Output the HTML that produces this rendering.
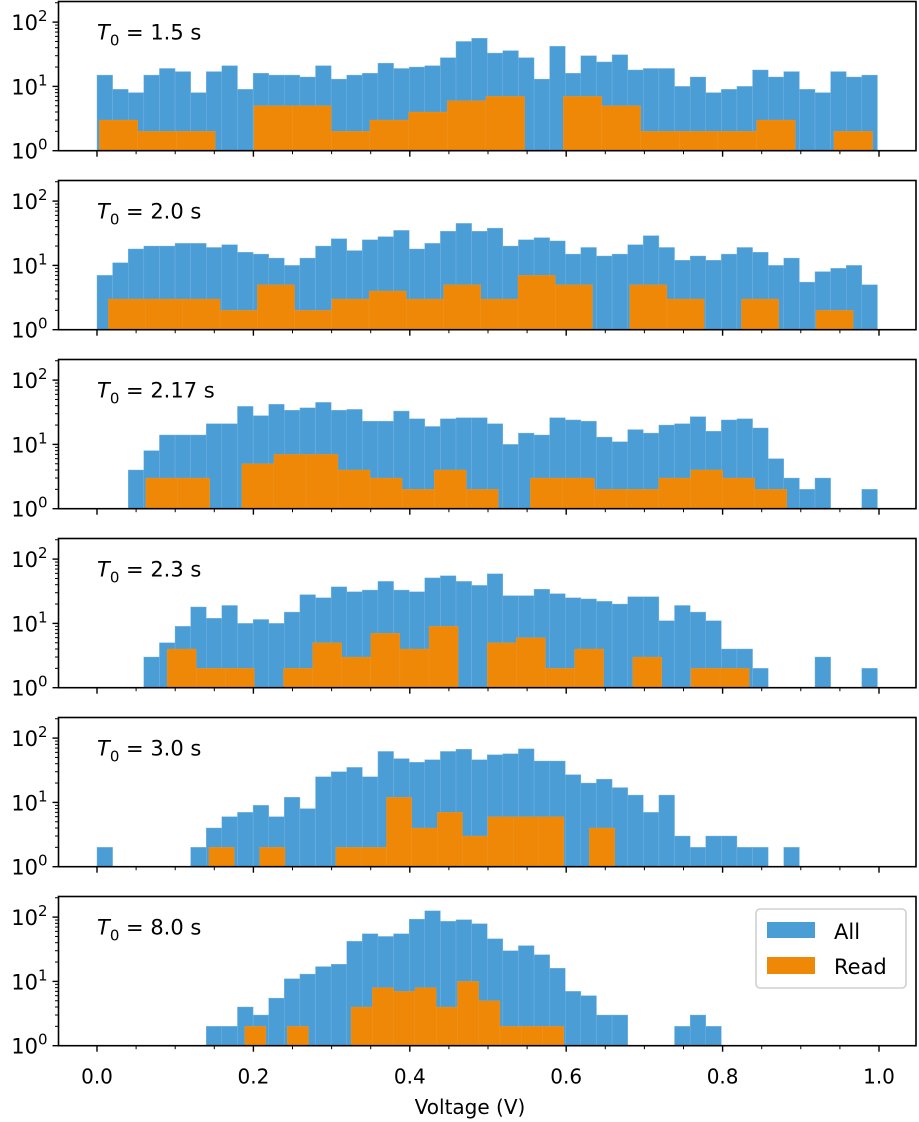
<!DOCTYPE html>
<html><head><meta charset="utf-8"><style>
body{margin:0;background:#fff;}
svg{display:block;font-family:"DejaVu Sans","Liberation Sans",sans-serif;}
</style></head><body>
<svg id="chart" width="919" height="1122" viewBox="0 0 919 1122" xmlns="http://www.w3.org/2000/svg"></svg>
<script>
const panelLabels = ["1.5", "2.0", "2.17", "2.3", "3.0", "8.0"];
const allCounts = [
 [15,9,8,15,19,17,8,17,21,9,16,15,15,14,21,13,15,16,23,19,20,21,28,50,56,33,36,28,13,42,16,30,24,31,18,19,19,10,14,8,9,10,18,14,17,9,8,17,14,15],
 [7,11,18,20,20,22,22,19,21,16,15,13,10,13,20,26,17,25,28,35,18,22,34,45,34,38,20,25,27,24,15,19,14,15,21,29,19,12,14,12,15,19,16,10,13,5.5,8,9,10,5],
 [0,0,4,8,14,14,14,21,21,39,28,42,34,37,45,34,35,23,23,33,25,19,25,26,26,21,10,15,14,26,24,23,13,11,17,15,20,21,27,16,24,25,18,6,3,2,3,0,0,2],
 [0,0,0,3,5,9,18,12,19,10,11.5,10,15,28,25,37,31,33,45,33,31,51,55,45,39,59,27,27,34,29,25,24,22,20,26,26,11,19,15,11,4,4,2,0,0,0,3,0,0,2],
 [2,0,0,0,0,0,2,4,6,7,9,6,12,8,25,30,35,25,62,48,42,46,62,67,46,55,57,68,44,44,27,20,23,17,13,7,13,3,2,3,3,2,2,0,2,0,0,0,0,0],
 [0,0,0,0,0,0,0,2,2,4,3,5.5,11,13,17,18.5,42,55,50,55,93,125,86,91,79,46,30,36,26,16,7,6,3,3,0,0,0,2,3,2,0,0,0,0,0,0,0,0,0,0]
];
const allBinStart = 0;
const allBinWidth = 0.01996;
const readBinStart = [0.0028, 0.01454, 0.0622, 0.0896, 0.1431, 0.1888];
const readBinWidth = [0.04945, 0.04762, 0.0410, 0.03722, 0.03243, 0.02721];
const readCounts = [
 [3,2,2,0,5,5,2,3,4,6,7,0,7,5,2,2,2,3,0,2],
 [3,3,3,2,5,2,3,4,3,5,3,7,5,0,5,3,0,3,0,2],
 [3,3,0,5,7,7,4,3,2,4,2,0,3,3,2,2,3,4,3,2],
 [4,2,2,0,2,5,3,7,4,9,0,5,6,2,4,0,3,0,2,2],
 [2,0,2,0,0,2,2,12,4,7,3,6,6,6,0,4],
 [2,0,2,0,0,4,8,7,8,4,10,5,2,2,2]
];
const xTicks = [0, 0.2, 0.4, 0.6, 0.8, 1.0];
const xTickLabels = ["0.0", "0.2", "0.4", "0.6", "0.8", "1.0"];

const NS = "http://www.w3.org/2000/svg";
const svg = document.getElementById('chart');
const X0 = 97, XS = 782, LEFT = 58.5, RIGHT = 916, PITCH = 179, BOT0 = 150.7, DEC = 64.3, H = 149.2;
function xs(v){ return X0 + v*XS; }
function ys(p, v){ return BOT0 + p*PITCH - Math.log10(v)*DEC; }
function mk(tag, attrs, parent){ const e=document.createElementNS(NS,tag); for(const k in attrs) e.setAttribute(k, attrs[k]); (parent||svg).appendChild(e); return e; }

for (let p=0; p<6; p++){
  const bot = BOT0 + p*PITCH, top = bot - H;
  const g = mk('g', {});
  
  
  allCounts[p].forEach((c,i)=>{
    if(c<=0) return;
    const x1 = xs(allBinStart + i*allBinWidth), x2 = xs(allBinStart+(i+1)*allBinWidth);
    const r = mk('rect', {x:x1, y:ys(p,c), width:x2-x1, height:bot-ys(p,c), fill:'#4a9dd5', stroke:'#7ab6e2', 'stroke-width':0.4}, g);
    
    
  });
  readCounts[p].forEach((c,i)=>{
    if(c<=0) return;
    const x1 = xs(readBinStart[p] + i*readBinWidth[p]), x2 = xs(readBinStart[p]+(i+1)*readBinWidth[p]);
    const r = mk('rect', {x:x1, y:ys(p,c), width:x2-x1, height:bot-ys(p,c), fill:'#ef8806', stroke:'#f09a35', 'stroke-width':0.3}, g);
    
    
  });
  const fr = mk('rect', {x:LEFT, y:top, width:RIGHT-LEFT, height:H, fill:'none', stroke:'#000', 'stroke-width':1.6}, g);
  
  
  for (let d=0; d<=2; d++){
    const y = bot - d*DEC;
    mk('line', {x1:LEFT-6, x2:LEFT, y1:y, y2:y, stroke:'#000', 'stroke-width':1.4}, g);
    const t = mk('text', {x:LEFT-11, y:y+8, 'font-size':21, 'text-anchor':'end'}, g);
    
    
    t.innerHTML = '10<tspan dy="-9" font-size="15">' + d + '</tspan>';
    for (let m=2; m<=9; m++){
      const ym = y - Math.log10(m)*DEC;
      if (ym < top) continue;
      mk('line', {x1:LEFT-3.5, x2:LEFT, y1:ym, y2:ym, stroke:'#000', 'stroke-width':1}, g);
    }
  }
  for (let k=0; k<=20; k++){
    const v = k*0.05, major = (k%4===0);
    mk('line', {x1:xs(v), x2:xs(v), y1:bot, y2:bot+(major?6:3.5), stroke:'#000', 'stroke-width':major?1.4:1}, g);
  }
  const lab = mk('text', {x:97, y:top+38, 'font-size':21}, g);
  
  
  lab.innerHTML = '<tspan font-style="italic">T</tspan><tspan dy="6" font-size="15">0</tspan><tspan dy="-6"> = ' + panelLabels[p] + ' s</tspan>';
}
const lastBot = BOT0 + 5*PITCH;
xTicks.forEach((v,i)=>{
  const t = mk('text', {x:xs(v), y:lastBot+38, 'font-size':20, 'text-anchor':'middle'});
  
  
  t.textContent = xTickLabels[i];
});
const xl = mk('text', {x:470, y:1114, 'font-size':20, 'text-anchor':'middle'});


xl.textContent = 'Voltage (V)';
const lg = mk('g', {});


mk('rect', {x:756, y:909, width:150, height:79, rx:4, fill:'#fff', stroke:'#d0d0d0', 'stroke-width':1.6}, lg);
mk('rect', {x:767, y:922, width:48, height:16, fill:'#4a9dd5'}, lg);
mk('rect', {x:767, y:957, width:48, height:17, fill:'#ef8806'}, lg);
const t1 = mk('text', {x:834, y:939, 'font-size':21}, lg);


t1.textContent = 'All';
const t2 = mk('text', {x:834, y:974, 'font-size':21}, lg);


t2.textContent = 'Read';
</script>
</body></html>
